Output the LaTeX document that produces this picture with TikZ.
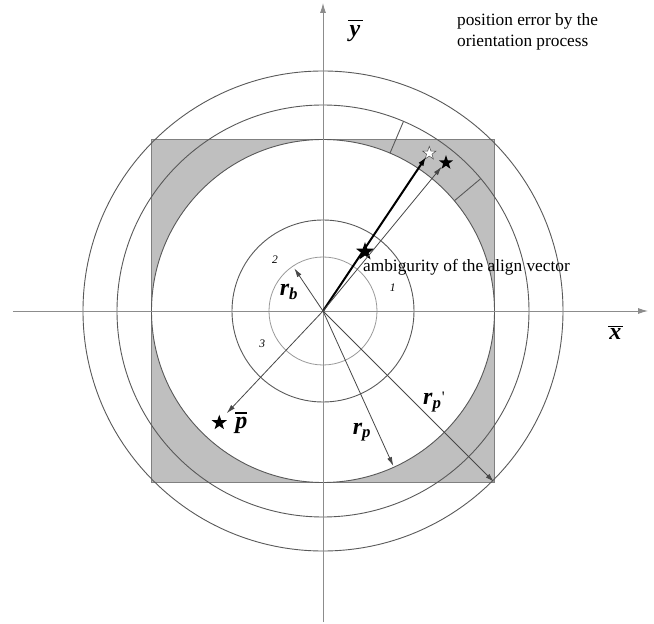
\documentclass[tikz,border=0pt]{standalone}
\usepackage{fontspec}
\setmainfont{Liberation Serif}
\usetikzlibrary{arrows.meta,shapes.geometric}
\begin{document}
\begin{tikzpicture}[x=1pt,y=1pt,
  circ/.style={draw=black!65, line width=0.9pt},
  axisline/.style={draw=black!45, line width=0.9pt, -{Latex[length=10pt,width=6pt]}},
  ray/.style={draw=black!72, line width=0.8pt, -{Latex[length=9pt,width=5pt]}},
  thickray/.style={draw=black, line width=2pt, -{Latex[length=9pt,width=6pt]}},
  bstar/.style={star, star points=5, star point ratio=2.5, fill=black, inner sep=0pt},
  wstar/.style={star, star points=5, star point ratio=2.5, fill=white, draw=black!70, line width=0.5pt, inner sep=0pt},
  lbl/.style={font=\fontsize{17.3}{21}\selectfont, inner sep=0pt},
  sym/.style={font=\fontsize{24}{26}\selectfont\bfseries\itshape, inner sep=0pt},
  symbar/.style={draw=black, line width=1.8pt},
  num/.style={font=\fontsize{11.5}{12}\selectfont\itshape, inner sep=0pt}]
\useasboundingbox (-323,-313) rectangle (331,311);
\coordinate (O) at (0,0);
% gray square with white disk
\path[fill=black!25, even odd rule] (-171.5,-171.5) rectangle (171.5,171.5) (0,0) circle (171.5);
\draw[black!50, line width=0.8pt] (-171.5,-171.5) rectangle (171.5,171.5);
% circles
\draw[circ] (O) circle (240);
\draw[circ] (O) circle (206);
\draw[circ] (O) circle (171.5);
\draw[circ] (O) circle (91);
\draw[draw=black!40, line width=0.8pt] (O) circle (54);
% sector boundaries
\draw[circ] (67:171.5) -- (67:206);
\draw[circ] (40:171.5) -- (40:206);
% axes
\coordinate (xl) at (-310,0);
\coordinate (xr) at (325,0);
\coordinate (yb) at (0,-311);
\coordinate (yt) at (0,308);
\draw[axisline] (xl) -- (xr);
\draw[axisline] (yb) -- (yt);
% stars
\node[wstar, minimum size=14pt] (ws) at (106.3,157.7) {};
\node[bstar, minimum size=15pt] (bs) at (123,148.3) {};
\node[bstar, minimum size=19pt] (ms) at (42,59.3) {};
\node[bstar, minimum size=16pt] (ps) at (-103.7,-111.7) {};
% arrow tips
\coordinate (tw) at (103,154);
\coordinate (tb) at (118.7,144.3);
\coordinate (trb) at (-28.7,42.7);
\coordinate (tp) at (-96.3,-102.3);
\coordinate (trp) at (70.3,-155);
\coordinate (trpp) at (171,-171);
\draw[thickray] (O) -- (tw);
\draw[ray] (O) -- (tb);
\draw[ray] (O) -- (trb);
\draw[ray] (O) -- (tp);
\draw[ray] (O) -- (trp);
\draw[ray] (O) -- (trpp);
% labels
\node[lbl, anchor=base west] (amb) at (40,39) {ambigurity of the align vector};
\node[lbl, anchor=north west, align=left] (pos) at (134,298) {position error by the\\orientation process};
\node[sym] (ylab) at (32,277) {y};
\draw[symbar] (25,290.5) -- (40,290.5);
\node[sym] (xlab) at (292.5,-23) {x};
\draw[symbar] (285,-15.5) -- (300,-15.5);
\node[sym] (plab) at (-81.5,-114) {p};
\draw[symbar] (-87.5,-102) -- (-76,-102);
\node[sym] (rb) at (-34,19) {r\textsubscript{b}};
\node[sym] (rp) at (39,-121) {r\textsubscript{p}};
\node[sym] (rpp) at (111,-91) {r\textsubscript{p}{\fontsize{16}{16}\selectfont\mdseries\upshape\kern0.5pt\raisebox{2pt}{\textquotesingle}}};
\node[num] (n1) at (69.7,23.3) {1};
\node[num] (n2) at (-48,51.7) {2};
\node[num] (n3) at (-60.7,-33) {3};
\end{tikzpicture}
\end{document}
